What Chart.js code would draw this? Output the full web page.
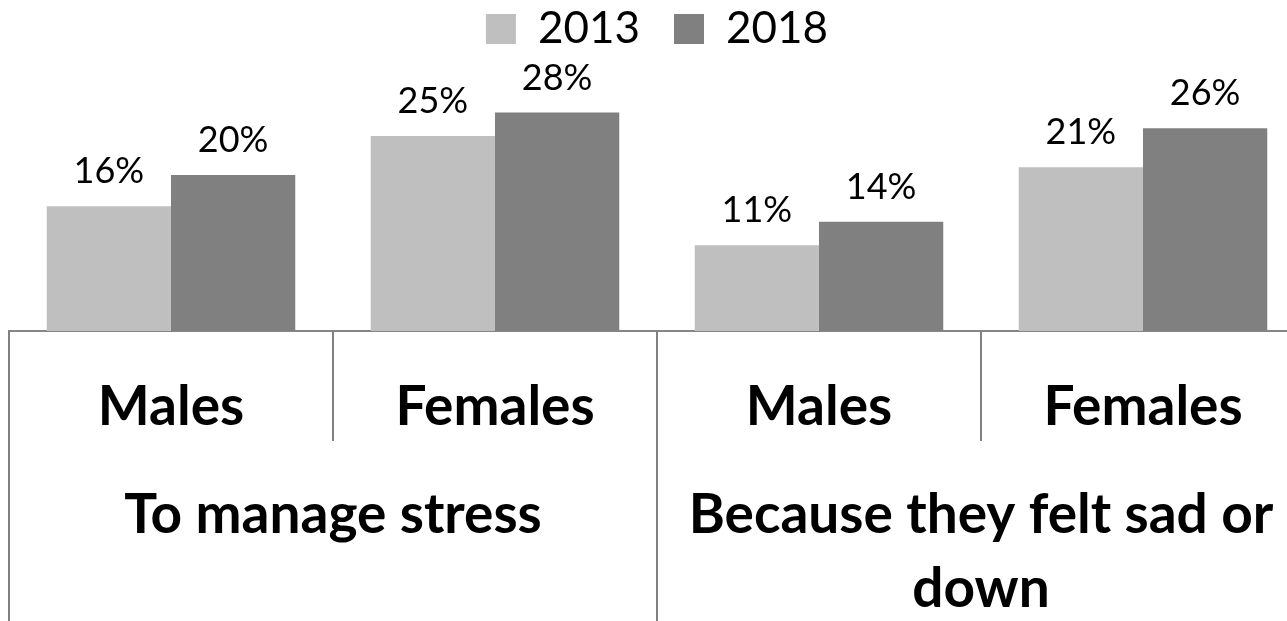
<!DOCTYPE html>
<html>
<head>
<meta charset="utf-8">
<script src="https://cdn.jsdelivr.net/npm/chart.js@4"></script>
<style>
  html, body { margin: 0; padding: 0; background: #ffffff; overflow: hidden; }
  #wrap { width: 1287px; height: 621px; overflow: hidden; position: relative; }
  canvas { display: block; }
</style>
</head>
<body>
<div id="wrap"><canvas id="c" width="1320" height="621"></canvas></div>
<script>
const categories = ["Males", "Females", "Males", "Females"];
const groups = ["To manage stress", ["Because they felt sad or", "down"]];
const seriesNames = ["2013", "2018"];
const values2013 = [16, 25, 11, 21];
const values2018 = [20, 28, 14, 26];
const colors = ["#bfbfbf", "#808080"];

const valueLabels = {
  id: 'valueLabels',
  afterDatasetsDraw(chart) {
    const ctx = chart.ctx;
    ctx.save();
    ctx.font = '36px Lato';
    ctx.fillStyle = '#000';
    ctx.textAlign = 'center';
    ctx.textBaseline = 'alphabetic';
    chart.data.datasets.forEach((ds, di) => {
      const meta = chart.getDatasetMeta(di);
      meta.data.forEach((bar, i) => {
        ctx.fillText(ds.data[i] + '%', bar.x, bar.y - 23);
      });
    });
    ctx.restore();
  }
};

const dividers = {
  id: 'dividers',
  afterDraw(chart) {
    const xs = chart.scales.x;
    const n = categories.length;
    const step = (xs.right - xs.left) / n;
    const innerBottom = xs.bottom - xs.options.ticks.padding;
    const ctx = chart.ctx;
    ctx.save();
    ctx.strokeStyle = '#808080';
    ctx.lineWidth = 2;
    for (let i = 0; i <= n; i++) {
      const x = xs.left + i * step;
      const bottom = (i % 2 === 0) ? chart.height : innerBottom;
      ctx.beginPath();
      ctx.moveTo(x, xs.top);
      ctx.lineTo(x, bottom);
      ctx.stroke();
    }
    ctx.restore();
  }
};

new Chart(document.getElementById('c'), {
  type: 'bar',
  data: {
    labels: categories,
    datasets: [
      { label: seriesNames[0], data: values2013, backgroundColor: colors[0], borderWidth: 0, barPercentage: 1.0, categoryPercentage: 0.767 },
      { label: seriesNames[1], data: values2018, backgroundColor: colors[1], borderWidth: 0, barPercentage: 1.0, categoryPercentage: 0.767 }
    ]
  },
  options: {
    responsive: false,
    animation: false,
    devicePixelRatio: 1,
    layout: { padding: { left: 9, right: 15, top: -27, bottom: 0 } },
    plugins: {
      tooltip: { enabled: false },
      legend: {
        position: 'top',
        maxHeight: 85,
        labels: {
          boxWidth: 30,
          boxHeight: 30,
          padding: 34,
          color: '#000',
          font: { family: 'Lato', size: 44 }
        }
      }
    },
    scales: {
      y: { display: false, min: 0, max: 35 },
      x: {
        position: 'bottom',
        offset: true,
        grid: { display: false, drawTicks: false },
        border: { display: true, color: '#868686', width: 2 },
        ticks: {
          autoSkip: false, maxRotation: 0, minRotation: 0,
          padding: 42,
          color: '#000',
          font: { family: 'Lato', size: 55, weight: 'bold', lineHeight: '68px' }
        }
      },
      x2: {
        type: 'category',
        position: 'bottom',
        labels: groups,
        offset: true,
        grid: { display: false, drawTicks: false },
        border: { display: false },
        ticks: {
          autoSkip: false, maxRotation: 0, minRotation: 0,
          padding: -5,
          color: '#000',
          font: { family: 'Lato', size: 55, weight: 'bold', lineHeight: '74px' }
        }
      }
    }
  },
  plugins: [valueLabels, dividers]
});
</script>
</body>
</html>
